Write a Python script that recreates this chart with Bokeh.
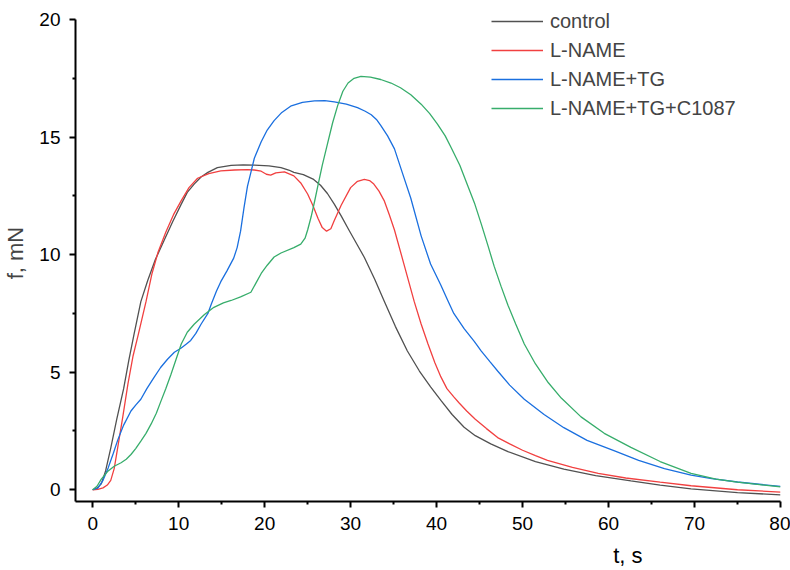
from bokeh.plotting import figure
from bokeh.models import FixedTicker, Range1d, Legend, LegendItem, Title
from bokeh.embed import file_html
from bokeh.resources import INLINE

# Twitch force traces: time (s) and force (mN)
t_control = [0, 0.5, 1.0, 1.5, 2.1, 2.8, 3.6, 4.2, 4.8, 5.6, 6.4, 7.3, 8.3, 9.3, 10.3,
             11.0, 11.8, 12.6, 13.4, 14.5, 16.1, 17.5, 18.8, 20.5, 21.9, 22.8, 23.4,
             24.5, 25.7, 26.5, 27.3, 28.1, 28.9, 29.8, 30.8, 31.6, 32.8, 33.9, 35.2,
             36.6, 38.0, 39.3, 40.5, 41.8, 43.2, 44.5, 46.3, 48.3, 51.5, 54.8, 58.5,
             62.6, 66.0, 69.6, 75.0, 80.0]
f_control = [0, 0.07, 0.25, 0.8, 1.77, 3.0, 4.3, 5.5, 6.6, 8.0, 8.9, 9.8, 10.6, 11.4, 12.15,
             12.65, 13.0, 13.3, 13.5, 13.7, 13.8, 13.82, 13.81, 13.78, 13.7, 13.6, 13.5,
             13.4, 13.2, 12.95, 12.6, 12.15, 11.65, 11.05, 10.4, 9.88, 8.95, 8.03, 6.95,
             5.9, 5.05, 4.38, 3.8, 3.2, 2.66, 2.3, 1.95, 1.62, 1.2, 0.88, 0.6,
             0.38, 0.2, 0.04, -0.12, -0.22]

t_lname = [0, 0.6, 1.2, 1.7, 2.1, 2.5, 2.9, 3.5, 4.1, 4.7, 5.3, 6.2, 6.9, 7.6, 8.5, 9.4,
           10.3, 11.2, 12.2, 13.5, 14.9, 16.5, 18.0, 18.8, 19.6, 20.2, 20.7, 21.3, 22.3,
           23.4, 24.2, 25.0, 25.6, 26.2, 26.7, 27.2, 27.7, 28.1, 28.9, 30.0, 30.8, 31.6,
           32.2, 32.7, 33.3, 33.9, 34.5, 35.1, 36.2, 36.8, 37.4, 38.2, 39.0, 39.8, 40.5,
           41.2, 42.0, 42.6, 43.5, 44.5, 45.8, 47.1, 48.5, 50.0, 51.5, 52.9, 55.8, 58.8,
           62.0, 66.0, 69.6, 75.0, 80.0]
f_lname = [0, 0.02, 0.08, 0.2, 0.4, 0.9, 1.77, 3.1, 4.5, 5.7, 6.6, 8.0, 9.2, 10.1, 10.95, 11.7,
           12.3, 12.85, 13.25, 13.45, 13.56, 13.6, 13.62, 13.6, 13.55, 13.42, 13.38, 13.48, 13.52,
           13.35, 13.05, 12.58, 12.1, 11.55, 11.15, 11.0, 11.1, 11.45, 12.1, 12.85, 13.12, 13.2,
           13.15, 13.0, 12.7, 12.3, 11.7, 11.05, 9.6, 8.8, 8.0, 7.05, 6.2, 5.4, 4.8,
           4.3, 3.95, 3.7, 3.35, 3.0, 2.6, 2.22, 1.95, 1.68, 1.45, 1.25, 0.95, 0.7,
           0.5, 0.32, 0.17, 0.0, -0.1]

t_lname_tg = [0, 0.6, 1.2, 1.8, 2.4, 2.9, 3.6, 4.45, 5.0, 5.6, 6.3, 7.1, 7.9, 8.7, 9.5, 10.3,
              10.9, 11.4, 12.0, 12.6, 13.4, 13.8, 14.4, 14.9, 15.6, 16.4, 16.8, 17.2, 17.6,
              18.0, 18.4, 18.8, 19.6, 20.3, 21.1, 22.0, 23.1, 24.4, 25.8, 27.0, 28.1, 29.5,
              30.8, 31.7, 32.4, 33.0, 33.5, 34.3, 35.1, 36.0, 37.0, 38.2, 39.3, 40.5,
              41.3, 42.0, 43.2, 44.4, 45.2, 46.2, 47.1, 48.5, 50.2, 52.5, 54.8, 57.5, 60.7,
              63.5, 66.5, 69.6, 72.0, 75.0, 80.0]
f_lname_tg = [0, 0.07, 0.4, 0.93, 1.55, 2.1, 2.75, 3.35, 3.6, 3.85, 4.3, 4.76, 5.2, 5.55, 5.85, 6.03,
              6.2, 6.35, 6.65, 7.04, 7.5, 7.9, 8.45, 8.85, 9.3, 9.85, 10.3, 11.0, 12.0,
              12.9, 13.5, 14.1, 14.8, 15.3, 15.7, 16.05, 16.33, 16.48, 16.54, 16.55, 16.5, 16.4,
              16.25, 16.1, 15.95, 15.75, 15.5, 15.05, 14.5, 13.5, 12.4, 10.8, 9.6, 8.7,
              8.05, 7.5, 6.85, 6.3, 5.9, 5.45, 5.05, 4.45, 3.85, 3.2, 2.64, 2.1, 1.65,
              1.25, 0.9, 0.62, 0.47, 0.33, 0.14]

t_lname_tg_c = [0, 0.5, 1.0, 1.8, 2.5, 3.3, 3.9, 4.45, 5.0, 5.6, 6.2, 6.8, 7.4, 7.95, 8.5, 9.1,
                9.7, 10.3, 11.0, 11.8, 13.0, 14.1, 15.2, 16.1, 17.2, 18.4, 19.0, 19.6, 20.3,
                21.1, 21.9, 23.4, 24.2, 24.7, 25.0, 25.4, 25.8, 26.2, 26.7, 27.3, 27.9, 28.5,
                29.1, 29.7, 30.4, 31.2, 32.3, 33.5, 34.7, 35.8, 37.0, 38.2, 39.2, 40.1,
                41.0, 41.7, 42.7, 43.6, 44.4, 45.2, 46.0, 46.7, 47.5, 48.3, 49.2, 50.2, 51.5,
                53.0, 54.5, 56.8, 59.5, 62.6, 66.0, 69.6, 72.5, 75.0, 80.0]
f_lname_tg_c = [0, 0.15, 0.45, 0.8, 1.0, 1.15, 1.3, 1.5, 1.75, 2.07, 2.4, 2.8, 3.25, 3.78, 4.3, 4.9,
                5.55, 6.2, 6.7, 7.04, 7.45, 7.76, 7.95, 8.05, 8.2, 8.4, 8.8, 9.2, 9.55,
                9.9, 10.07, 10.3, 10.45, 10.7, 11.05, 11.6, 12.25, 12.95, 13.8, 14.7, 15.6, 16.35,
                16.95, 17.3, 17.5, 17.58, 17.55, 17.45, 17.3, 17.1, 16.8, 16.4, 16.0, 15.55,
                15.05, 14.55, 13.8, 12.95, 12.2, 11.3, 10.35, 9.5, 8.65, 7.85, 7.05, 6.2, 5.35,
                4.55, 3.9, 3.1, 2.4, 1.8, 1.2, 0.7, 0.45, 0.32, 0.12]

series_names = ["control", "L-NAME", "L-NAME+TG", "L-NAME+TG+C1087"]
series_colors = ["#515151", "#F14040", "#1A6FDF", "#37AD6B"]

x_ticks = [0, 10, 20, 30, 40, 50, 60, 70, 80]
x_minor = [5, 15, 25, 35, 45, 55, 65, 75]
y_ticks = [0, 5, 10, 15, 20]
y_minor = [2.5, 7.5, 12.5, 17.5]

FONT = "Liberation Sans"

# The frame reaches a little above 20 so the legend can sit at the very top;
# the left axis line itself stops at 20.
p = figure(width=790, height=570, output_backend="svg", toolbar_location=None,
           x_range=Range1d(-2, 80), y_range=Range1d(-0.5, 20.64),
           min_border_left=75, min_border_right=10, min_border_top=4, min_border_bottom=69)
p.outline_line_color = None
p.grid.visible = False
p.background_fill_color = "white"
p.border_fill_color = "white"

series = [(t_control, f_control), (t_lname, f_lname),
          (t_lname_tg, f_lname_tg), (t_lname_tg_c, f_lname_tg_c)]
renderers = []
for (t, f), color in zip(series, series_colors):
    r = p.line(t, f, line_color=color, line_width=1.3)
    renderers.append(r)

for ax, ticks, minor in ((p.xaxis[0], x_ticks, x_minor), (p.yaxis[0], y_ticks, y_minor)):
    ax.ticker = FixedTicker(ticks=ticks, minor_ticks=minor)
    ax.axis_line_width = 2
    ax.axis_line_color = "black"
    ax.major_tick_line_width = 2
    ax.minor_tick_line_width = 2
    ax.major_tick_in = 0
    ax.major_tick_out = 6
    ax.minor_tick_in = 0
    ax.minor_tick_out = 3
    ax.major_label_text_font = FONT
    ax.major_label_text_font_size = "19px"
    ax.major_label_text_color = "black"

p.yaxis.bounds = (-0.5, 20)
p.xaxis.major_label_standoff = 9
p.yaxis.major_label_standoff = 9

p.yaxis.axis_label = "f, mN"
p.yaxis.axis_label_text_font = FONT
p.yaxis.axis_label_text_font_size = "22px"
p.yaxis.axis_label_text_font_style = "normal"
p.yaxis.axis_label_standoff = 8

# empty spacer panel, then the x-axis caption right-aligned under the 60-70 span
p.add_layout(Title(text=" ", text_font_size="5px", standoff=0), "below")
p.add_layout(Title(text="t, s", align="right", offset=138, text_font=FONT,
                   text_font_size="22px", text_font_style="normal", text_color="black",
                   standoff=0), "below")

legend = Legend(items=[LegendItem(label=n, renderers=[r]) for n, r in zip(series_names, renderers)],
                location=(416, 379), padding=0, margin=0, spacing=1,
                glyph_width=52, glyph_height=28, label_height=28, label_standoff=7,
                label_text_font=FONT, label_text_font_size="20px",
                border_line_color=None, background_fill_alpha=0)
p.add_layout(legend)

open("out.html", "w").write(file_html(p, INLINE))
